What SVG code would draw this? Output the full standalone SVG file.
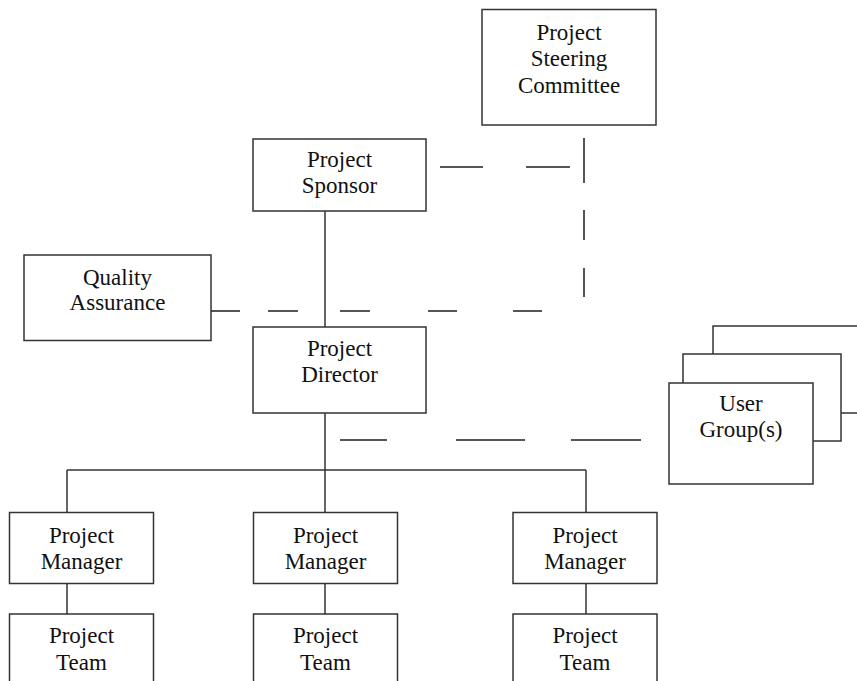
<svg xmlns="http://www.w3.org/2000/svg" width="857" height="681" viewBox="0 0 857 681">
<style>
.box{fill:#fff;stroke:#333;stroke-width:1.5}
.ln{stroke:#333;stroke-width:1.5;fill:none}
.dash{stroke:#555;stroke-width:2;fill:none}
.t{font-size:23px;fill:#111;text-anchor:middle}
</style>
<rect width="857" height="681" fill="#fff"/>
<g id="connectors">
<line class="ln" x1="325" y1="211" x2="325" y2="327"/>
<line class="ln" x1="325" y1="413" x2="325" y2="470"/>
<line class="ln" x1="67" y1="470" x2="586" y2="470"/>
<line class="ln" x1="67" y1="470" x2="67" y2="512"/>
<line class="ln" x1="325" y1="470" x2="325" y2="512"/>
<line class="ln" x1="586" y1="470" x2="586" y2="512"/>
<line class="ln" x1="67" y1="583" x2="67" y2="614"/>
<line class="ln" x1="325" y1="583" x2="325" y2="614"/>
<line class="ln" x1="586" y1="583" x2="586" y2="614"/>
<line class="dash" x1="440" y1="167" x2="483" y2="167"/>
<line class="dash" x1="526" y1="167" x2="570" y2="167"/>
<line class="dash" x1="584" y1="138" x2="584" y2="183"/>
<line class="dash" x1="584" y1="210" x2="584" y2="240"/>
<line class="dash" x1="584" y1="268" x2="584" y2="297"/>
<line class="dash" x1="211" y1="311" x2="240" y2="311"/>
<line class="dash" x1="268" y1="311" x2="298" y2="311"/>
<line class="dash" x1="340" y1="311" x2="370" y2="311"/>
<line class="dash" x1="428" y1="311" x2="457" y2="311"/>
<line class="dash" x1="513" y1="311" x2="542" y2="311"/>
<line class="dash" x1="340" y1="440" x2="387" y2="440"/>
<line class="dash" x1="456" y1="440" x2="525" y2="440"/>
<line class="dash" x1="571" y1="440" x2="641" y2="440"/>
</g>
<g font-family="Liberation Serif, DejaVu Serif, Noto Serif, serif" class="t">
<g id="steering">
<rect class="box" x="482" y="9.5" width="174" height="115.5"/>
<text x="569" y="40">Project</text>
<text x="569" y="66">Steering</text>
<text x="569" y="93">Committee</text>
</g>
<g id="sponsor">
<rect class="box" x="253" y="139" width="173" height="72"/>
<text x="339.5" y="167">Project</text>
<text x="339.5" y="193">Sponsor</text>
</g>
<g id="qa">
<rect class="box" x="24" y="255" width="187" height="85.5"/>
<text x="117.5" y="285">Quality</text>
<text x="117.5" y="310">Assurance</text>
</g>
<g id="director">
<rect class="box" x="253" y="327" width="173" height="86"/>
<text x="339.5" y="356">Project</text>
<text x="339.5" y="382">Director</text>
</g>
<g id="usergroups">
<rect class="box" x="713" y="326" width="160" height="87"/>
<rect class="box" x="683" y="354" width="158" height="87"/>
<rect class="box" x="669" y="383" width="144" height="101"/>
<text x="741" y="411">User</text>
<text x="741" y="437">Group(s)</text>
</g>
<g id="manager1">
<rect class="box" x="9.5" y="512.5" width="144" height="71"/>
<text x="81.5" y="543">Project</text>
<text x="81.5" y="569">Manager</text>
</g>
<g id="manager2">
<rect class="box" x="253.5" y="512.5" width="144" height="71"/>
<text x="325.5" y="543">Project</text>
<text x="325.5" y="569">Manager</text>
</g>
<g id="manager3">
<rect class="box" x="513" y="512.5" width="144" height="71"/>
<text x="585" y="543">Project</text>
<text x="585" y="569">Manager</text>
</g>
<g id="team1">
<rect class="box" x="9.5" y="614" width="144" height="80"/>
<text x="81.5" y="643">Project</text>
<text x="81.5" y="670">Team</text>
</g>
<g id="team2">
<rect class="box" x="253.5" y="614" width="144" height="80"/>
<text x="325.5" y="643">Project</text>
<text x="325.5" y="670">Team</text>
</g>
<g id="team3">
<rect class="box" x="513" y="614" width="144" height="80"/>
<text x="585" y="643">Project</text>
<text x="585" y="670">Team</text>
</g>
</g>
</svg>
